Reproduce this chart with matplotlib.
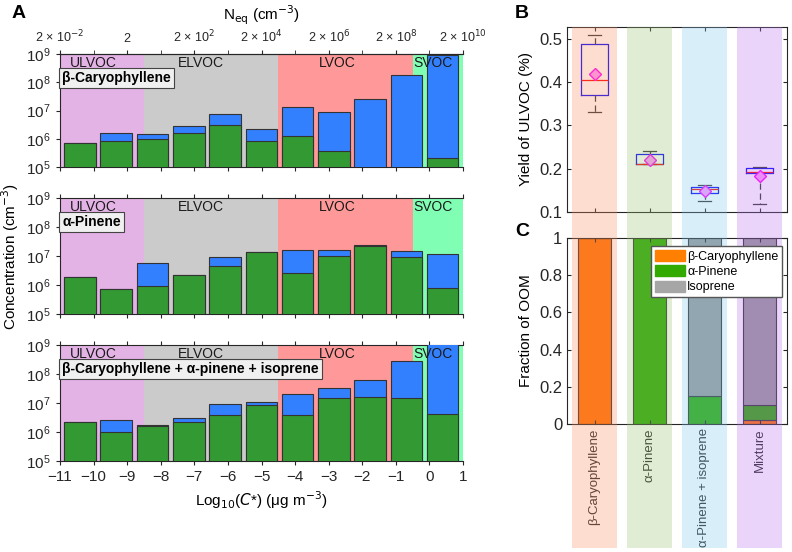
import matplotlib
matplotlib.use('Agg')
import matplotlib.pyplot as plt
import matplotlib.patches as mpatches
import numpy as np

plt.rcParams['font.family'] = ['Liberation Sans', 'DejaVu Sans']
plt.rcParams['font.size'] = 11
plt.rcParams['axes.edgecolor'] = '#262626'
plt.rcParams['xtick.color'] = '#262626'
plt.rcParams['ytick.color'] = '#262626'

# volatility bins (log10 C*), bars = one per bin
bins = np.arange(11)
regions = ['ULVOC', 'ELVOC', 'LVOC', 'SVOC']
region_edges = [-11, -8.5, -4.5, -0.5, 1]
region_colors = ['#e4b3e6', '#cbcbcb', '#ff9999', '#80ffb4']
region_text_x = [-10.7, -7.5, -3.3, -0.48]

systems = ['β-Caryophyllene', 'α-Pinene',
           'β-Caryophyllene + α-pinene + isoprene']

# total (blue) and green part of each bar, cm^-3
bcp_total = [7.1e5, 1.6e6, 1.48e6, 2.9e6, 7.6e6, 2.2e6, 1.3e7, 8.7e6, 2.6e7, 1.8e8, 8.9e8]
bcp_green = [7.1e5, 8.3e5, 9.8e5, 1.6e6, 3.1e6, 8.6e5, 1.3e6, 3.7e5, np.nan, np.nan, 2.1e5]
apn_total = [1.9e6, 7.3e5, 5.6e6, 2.2e6, 9.6e6, 1.35e7, 1.6e7, 1.6e7, 2.35e7, 1.45e7, 1.15e7]
apn_green = [1.9e6, 7.3e5, 9.3e5, 2.2e6, 4.7e6, 1.35e7, 2.5e6, 1.04e7, 2.3e7, 9.1e6, 7.7e5]
mix_total = [2.3e6, 2.5e6, 1.8e6, 3.1e6, 9.6e6, 1.12e7, 2.0e7, 3.2e7, 6.0e7, 2.7e8, 1.5e9]
mix_green = [2.3e6, 1.03e6, 1.55e6, 2.2e6, 4.0e6, 8.2e6, 4.0e6, 1.45e7, 1.55e7, 1.45e7, 4.1e6]

totals = [bcp_total, apn_total, mix_total]
greens = [bcp_green, apn_green, mix_green]

neq_ticks = [-11, -9, -7, -5, -3, -1, 1]
neq_labels = ['2 × 10$^{-2}$', '2', '2 × 10$^{2}$', '2 × 10$^{4}$',
              '2 × 10$^{6}$', '2 × 10$^{8}$', '2 × 10$^{10}$']

# panel B: ULVOC yield box stats
groups = ['β-Caryophyllene', 'α-Pinene', 'α-Pinene + isoprene', 'Mixture']
y_q1 = [0.369, 0.211, 0.145, 0.190]
y_med = [0.405, 0.211, 0.152, 0.1915]
y_q3 = [0.488, 0.234, 0.158, 0.201]
y_lo = [0.330, 0.210, 0.125, 0.119]
y_hi = [0.508, 0.240, 0.162, 0.204]
y_mean = [0.418, 0.221, 0.149, 0.182]

# panel C: fraction of OOM
frac_bcp = [1.0, 0.0, 0.0, 0.02]
frac_apn = [0.0, 1.0, 0.15, 0.08]
frac_iso = [0.0, 0.0, 0.85, 0.90]
band_colors = [(0.97, 0.56, 0.39), (0.62, 0.76, 0.46), (0.50, 0.78, 0.91), (0.73, 0.45, 0.93)]

fig = plt.figure(figsize=(7.92, 5.52), dpi=100)

W, H = 792, 552
def px_axes(l, t, r, b):
    return fig.add_axes([l / W, 1 - b / H, (r - l) / W, (b - t) / H])

a_rows = [(54, 167), (198, 314), (345, 461)]
for i, (t, b) in enumerate(a_rows):
    ax = px_axes(60, t, 463, b)
    ax.set_yscale('log')
    ax.set_xlim(-11, 1)
    ax.set_ylim(1e5, 1e9)
    for j in range(4):
        ax.axvspan(region_edges[j], region_edges[j + 1], color=region_colors[j], lw=0, zorder=0)
    ax.set_yticks([1e5, 1e6, 1e7, 1e8, 1e9])
    ax.yaxis.set_minor_locator(matplotlib.ticker.NullLocator())
    ax.set_xticks(np.arange(-11, 2))
    ax.tick_params(direction='out', length=3, top=True, right=False, labelsize=11)
    ax.spines['right'].set_visible(False)
    if i < 2:
        ax.tick_params(labelbottom=False)
    else:
        ax.set_xticklabels([str(v).replace('-', '\u2212') for v in range(-11, 2)])
        ax.set_xlabel('Log$_{10}$($C$*) (μg m$^{-3}$)', fontsize=11)
    if i == 0:
        ax.tick_params(top=False)
        sec = ax.secondary_xaxis('top')
        sec.set_xticks(neq_ticks)
        sec.set_xticklabels(neq_labels, fontsize=9)
        sec.set_xticks(np.arange(-10, 1, 2), minor=True)
        sec.tick_params(which='both', direction='out', length=3)
        sec.set_xlabel('N$_{\\rm eq}$ (cm$^{-3}$)', fontsize=11, labelpad=6)
    if i == 1:
        ax.set_ylabel('Concentration (cm$^{-3}$)', fontsize=11)

    axb = ax.inset_axes([0, 0, 1, 1])
    axb.set_xlim(-0.55, 10.56)
    axb.set_yscale('log')
    axb.set_ylim(1e5, 1e9)
    axb.axis('off')
    axb.patch.set_alpha(0)
    tot = np.array(totals[i])
    grn = np.array(greens[i])
    axb.bar(bins, tot - 1, bottom=1, width=0.87, color='#3380ff', edgecolor='#333333', lw=0.8)
    axb.bar(bins, grn - 1, bottom=1, width=0.87, color='#339933', edgecolor='#333333', lw=0.8)
    for j in range(4):
        axb.text(region_text_x[j], 5.0e8, regions[j], transform=ax.transData,
                 fontsize=10, va='center', ha='left', color='#1a1a1a')
    axb.text(-10.93, 1.45e8, systems[i], transform=ax.transData, fontsize=10,
             fontweight='bold', va='center', ha='left',
             bbox=dict(boxstyle='square,pad=0.22', fc='#f0f0f0', ec='#444444', lw=0.8))

fig.text(12 / W, 1 - 14 / H, 'A', fontsize=14, fontweight='bold', va='center', ha='left')
fig.text(515 / W, 1 - 14 / H, 'B', fontsize=14, fontweight='bold', va='center', ha='left')
fig.text(515 / W, 1 - 231 / H, 'C', fontsize=14, fontweight='bold', va='center', ha='left')

# panel B
axB = px_axes(567, 27, 787, 212)
axB.patch.set_alpha(0)
stats = []
for k in range(4):
    stats.append(dict(med=y_med[k], q1=y_q1[k], q3=y_q3[k], whislo=y_lo[k],
                      whishi=y_hi[k], mean=y_mean[k], fliers=[]))
axB.bxp(stats, positions=[1, 2, 3, 4], widths=0.5, showmeans=True,
        boxprops=dict(color='#0000ff', lw=0.9),
        medianprops=dict(color='#ff0000', lw=0.9),
        whiskerprops=dict(color='#333333', lw=0.9, ls=(0, (5, 3))),
        capprops=dict(color='#333333', lw=0.9),
        meanprops=dict(marker='D', markerfacecolor='#ff99ff', markeredgecolor='#ff00ff', markersize=6.5))
axB.set_xlim(0.5, 4.5)
axB.set_ylim(0.1, 0.527)
axB.set_yticks([0.1, 0.2, 0.3, 0.4, 0.5])
axB.set_xticks([1, 2, 3, 4])
axB.set_xticklabels([])
axB.tick_params(direction='in', length=3, top=True, right=True, labelsize=12)
axB.set_ylabel('Yield of ULVOC (%)', fontsize=11)

# panel C
axC = px_axes(567, 238, 787, 424)
axC.patch.set_alpha(0)
pos = np.arange(1, 5)
axC.bar(pos, frac_bcp, width=0.6, color='#ff7000', edgecolor='#333333', lw=0.8, label='β-Caryophyllene')
axC.bar(pos, frac_apn, bottom=frac_bcp, width=0.6, color='#2aa800', edgecolor='#333333', lw=0.8, label='α-Pinene')
axC.bar(pos, frac_iso, bottom=np.add(frac_bcp, frac_apn), width=0.6, color='#999999',
        edgecolor='#333333', lw=0.8, label='Isoprene')
axC.set_xlim(0.5, 4.5)
axC.set_ylim(0, 1)
axC.set_yticks([0, 0.2, 0.4, 0.6, 0.8, 1])
axC.set_yticklabels(['0', '0.2', '0.4', '0.6', '0.8', '1'])
axC.set_xticks(pos)
axC.set_xticklabels(groups, rotation=90)
axC.tick_params(direction='in', length=3, top=True, right=True, labelsize=12)
axC.tick_params(axis='x', labelsize=9.5, pad=3)
axC.set_ylabel('Fraction of OOM', fontsize=11)

# translucent sample bands over B and C
axBand = px_axes(567, 27, 787, 548)
axBand.set_zorder(10)
axBand.patch.set_alpha(0)
axBand.axis('off')
axBand.set_xlim(0.5, 4.5)
axBand.set_ylim(0, 1)
axBand.bar(pos, [1, 1, 1, 1], width=0.82, color=band_colors, alpha=0.3, lw=0)

handles = [mpatches.Patch(color='#ff7f00', label='β-Caryophyllene'),
           mpatches.Patch(color='#33aa00', label='α-Pinene'),
           mpatches.Patch(color='#a6a6a6', label='Isoprene')]
leg = fig.legend(handles=handles, loc='upper right', bbox_to_anchor=(782 / W, 1 - 246 / H),
                 fontsize=9, fancybox=False, framealpha=1, edgecolor='#555555',
                 borderpad=0.3, handlelength=2.4, handleheight=1.0, handletextpad=0.2,
                 labelspacing=0.2, borderaxespad=0)
leg.set_zorder(20)

fig.savefig('out.png', dpi=100)
